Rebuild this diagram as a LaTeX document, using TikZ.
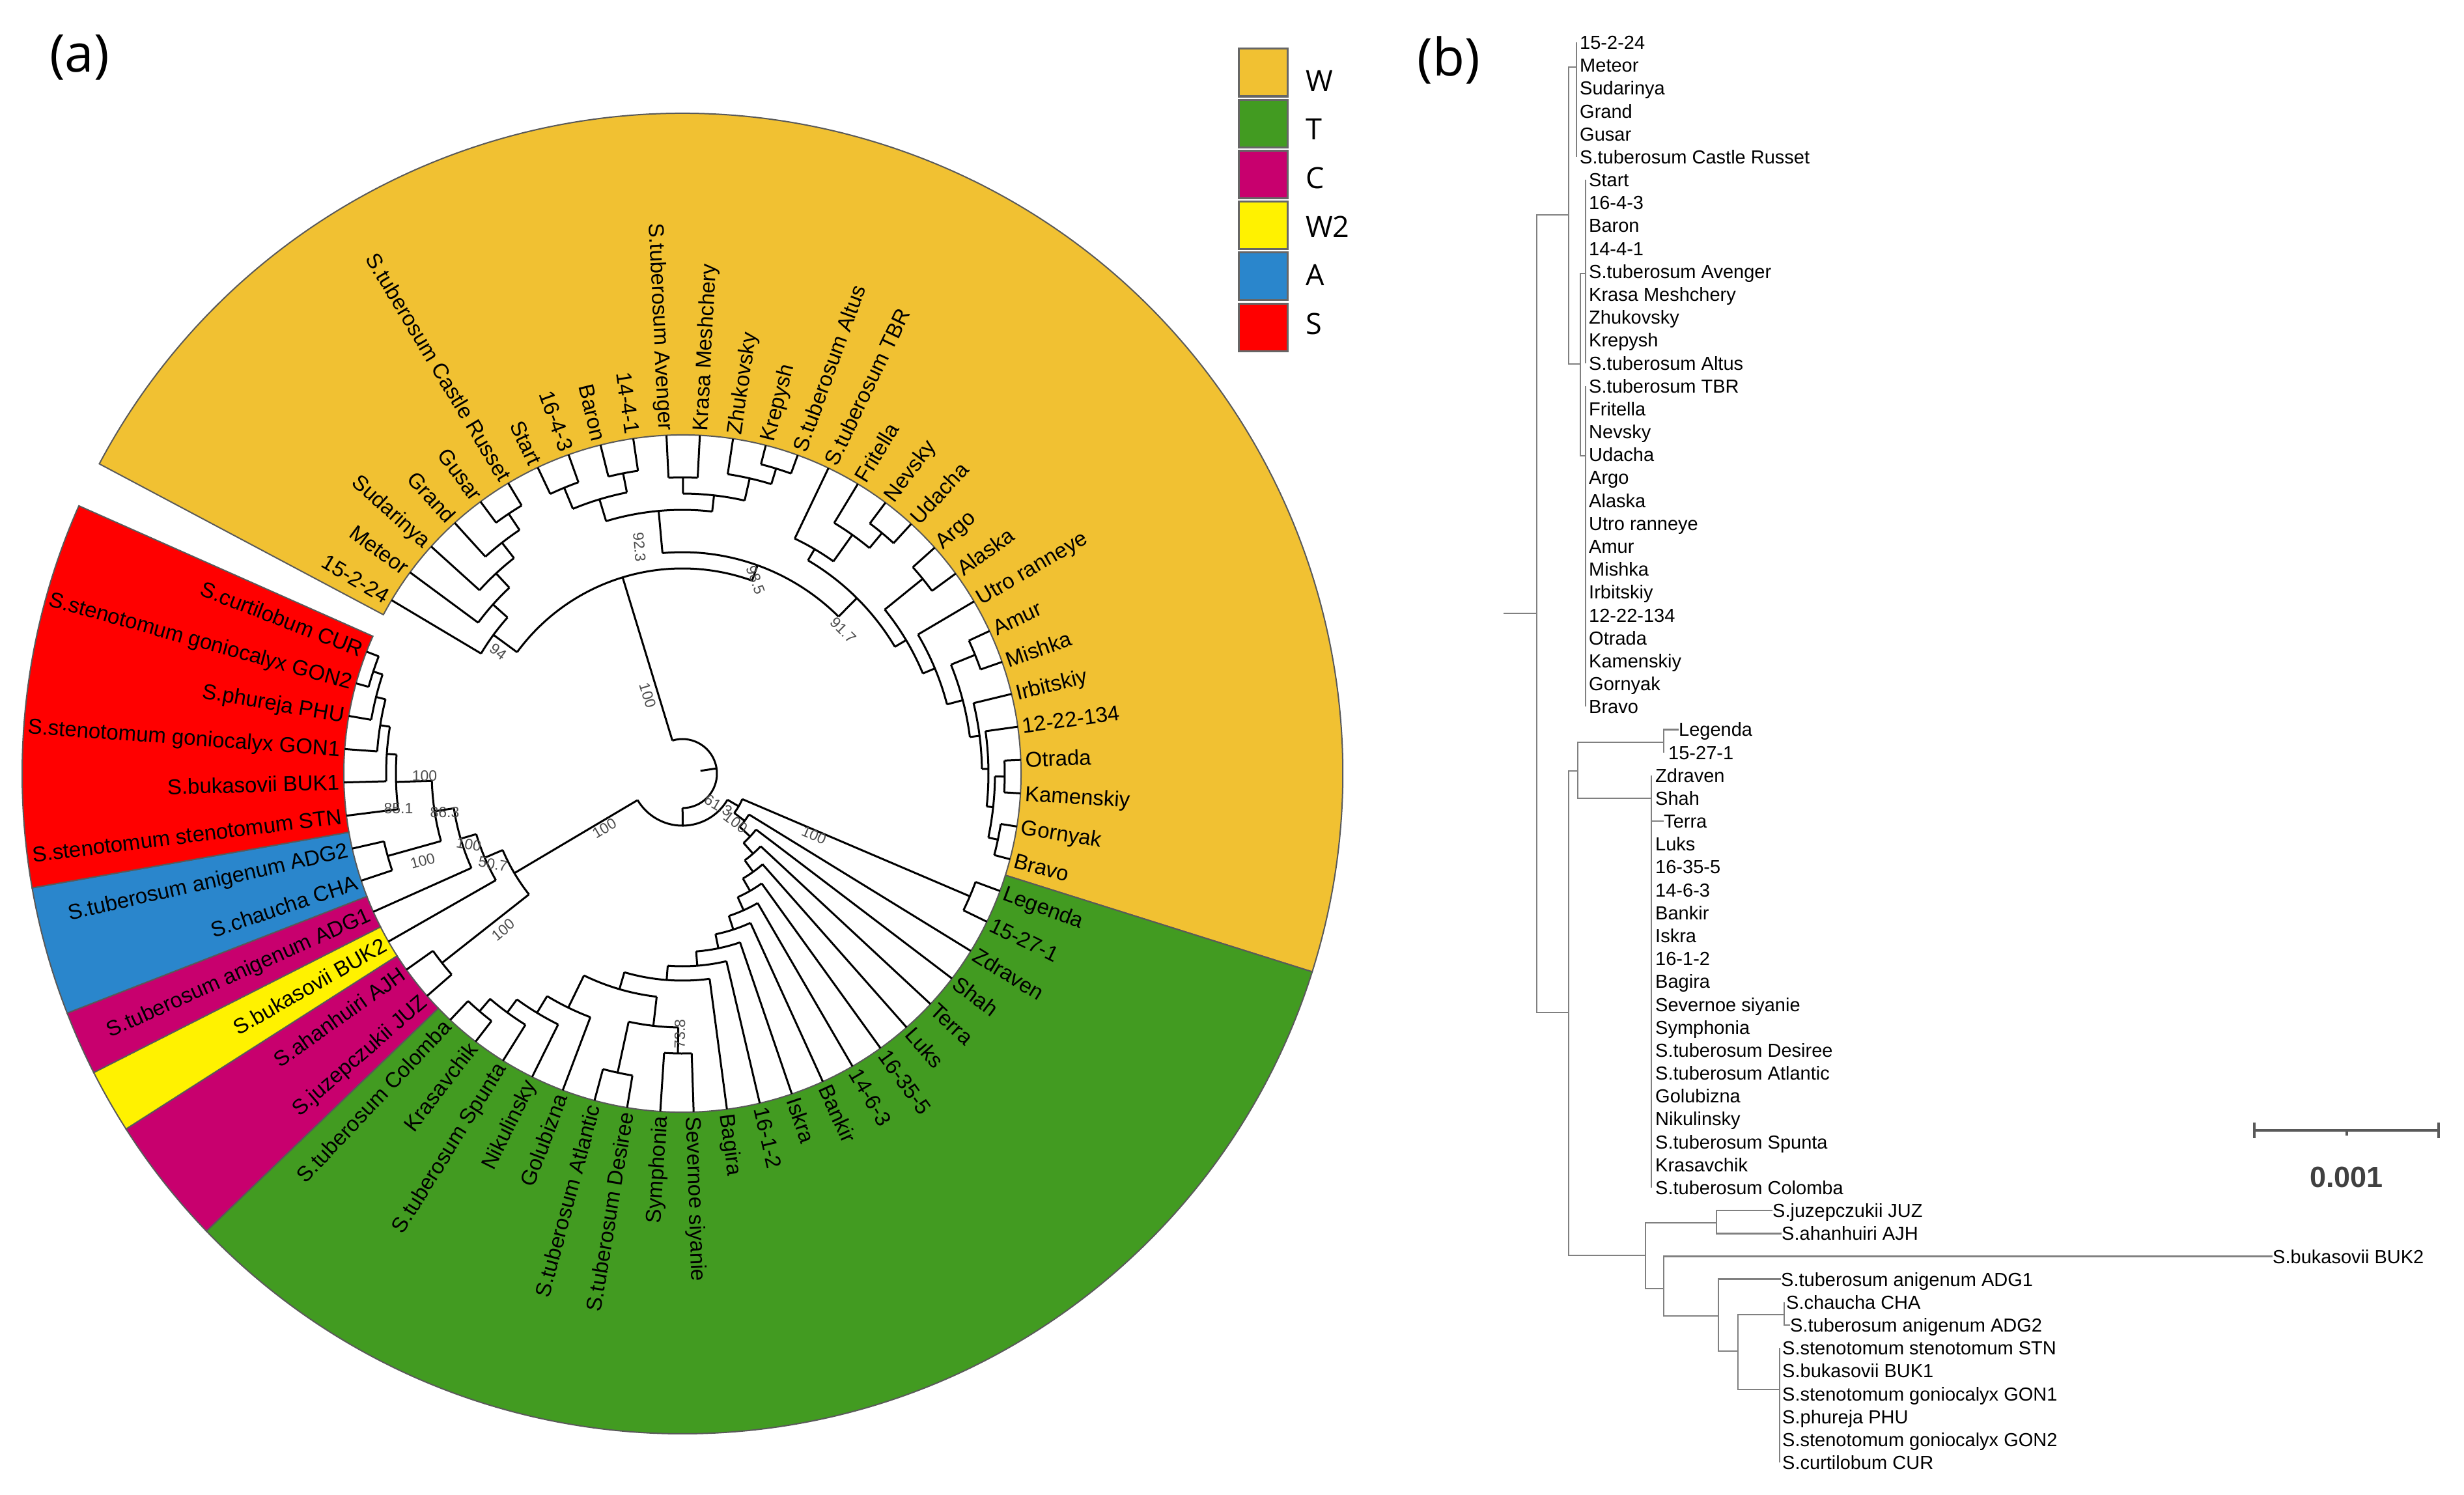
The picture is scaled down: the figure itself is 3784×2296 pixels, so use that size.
\documentclass[tikz,border=0pt]{standalone}
\usepackage{fontspec}
\setmainfont{Liberation Sans}
\newfontfamily\legfont{Open Sans}
\usetikzlibrary{positioning,calc}

\definecolor{colW}{RGB}{241,193,50}
\definecolor{colT}{RGB}{66,155,33}
\definecolor{colC}{RGB}{200,0,110}
\definecolor{colWtwo}{RGB}{255,242,0}
\definecolor{colA}{RGB}{42,134,204}
\definecolor{colS}{RGB}{255,0,0}
\definecolor{bgray}{RGB}{128,128,128}

% leaf p sits at angle 149.2-5.65*p
\newcommand{\clade}[4]{%
  \pgfmathsetmacro{\ca}{149.2-5.65*(#1)}%
  \pgfmathsetmacro{\cb}{149.2-5.65*(#2)}%
  \pgfmathsetmacro{\cm}{(\ca+\cb)/2}%
  \draw[branch] (\cm:#4pt) -- (\cm:#3pt) (\ca:#3pt) arc[start angle=\ca, end angle=\cb, radius=#3pt];}
\newcommand{\tleaf}[2]{%
  \pgfmathsetmacro{\ca}{149.2-5.65*(#1)}%
  \draw[branch] (\ca:#2pt) -- (\ca:520pt);}
\newcommand{\grpwedge}[3]{%
  \pgfmathsetmacro{\ca}{149.2-5.65*(#1)}%
  \pgfmathsetmacro{\cb}{149.2-5.65*(#2)}%
  \filldraw[fill=#3,draw=black!65,line width=2pt] (\ca:520pt) arc[start angle=\ca, end angle=\cb, radius=520pt]
    -- (\cb:1014pt) arc[start angle=\cb, end angle=\ca, radius=1014pt] -- cycle;}

\begin{document}
\begin{tikzpicture}[x=1pt,y=1pt]
  \tikzstyle{branch}=[line width=3pt,black]
  \tikzstyle{btree}=[line width=2.5pt,bgray]
  \tikzstyle{alab}=[inner sep=0,font=\fontsize{33}{40}\selectfont,text height=23pt,text depth=0pt]
  \tikzstyle{blab}=[inner sep=0,anchor=west,font=\fontsize{29}{35}\selectfont,text height=21pt,text depth=0pt]
  \tikzstyle{boot}=[inner sep=0,font=\fontsize{23}{27}\selectfont,black!70]
  \tikzstyle{legbox}=[draw=black!60,line width=3pt,minimum width=75pt,minimum height=73pt,inner sep=0]
  \tikzstyle{legtxt}=[inner sep=0,anchor=west,font=\legfont\fontsize{45}{54}\selectfont]
  \tikzstyle{panel}=[inner sep=0,font=\legfont\fontsize{80}{96}\selectfont]
  \useasboundingbox (0,0) rectangle (3784,-2296);

  \node[panel] (pa) at (122,-88) {(a)};
  \node[panel] (pb) at (2225,-92) {(b)};

  % (a) circular tree
  \begin{scope}[shift={(1048,-1188)}]
    \grpwedge{-0.5}{29.5}{colW}
    \grpwedge{29.5}{50.5}{colT}
    \grpwedge{50.5}{52.5}{colC}
    \grpwedge{52.5}{53.5}{colWtwo}
    \grpwedge{53.5}{54.5}{colC}
    \grpwedge{54.5}{56.5}{colA}
    \grpwedge{56.5}{62.5}{colS}

    \clade{7.478}{42.296}{53}{28}
    % W group
    \clade{0.96875}{13.988}{315}{53}
    \clade{0}{1.9375}{360}{315} \tleaf{0}{360}
    \clade{1}{2.875}{390}{360} \tleaf{1}{390}
    \clade{2}{3.75}{420}{390} \tleaf{2}{420}
    \clade{3}{4.5}{450}{420} \tleaf{3}{450}
    \clade{4}{5}{480}{450} \tleaf{4}{480} \tleaf{5}{480}
    \clade{9.5625}{18.414}{340}{315}
    \clade{7.5}{11.625}{405}{340}
    \clade{6.5}{8.5}{440}{405}
    \clade{6}{7}{475}{440} \tleaf{6}{475} \tleaf{7}{475}
    \clade{8}{9}{470}{440} \tleaf{8}{470} \tleaf{9}{470}
    \clade{10.5}{12.75}{430}{405}
    \clade{10}{11}{455}{430} \tleaf{10}{455} \tleaf{11}{455}
    \clade{12}{13.5}{465}{430} \tleaf{12}{465}
    \clade{13}{14}{490}{465} \tleaf{13}{490} \tleaf{14}{490}
    \clade{15.875}{20.953}{380}{340}
    \clade{15}{16.75}{400}{380} \tleaf{15}{400}
    \clade{16}{17.5}{450}{400} \tleaf{16}{450}
    \clade{17}{18}{480}{450} \tleaf{17}{480} \tleaf{18}{480}
    \clade{19.5}{22.406}{400}{380}
    \clade{19}{20}{475}{400} \tleaf{19}{475} \tleaf{20}{475}
    \clade{21}{23.8125}{420}{400} \tleaf{21}{420}
    \clade{22.5}{25.125}{445}{420}
    \clade{22}{23}{485}{445} \tleaf{22}{485} \tleaf{23}{485}
    \clade{24}{26.25}{460}{445} \tleaf{24}{460}
    \clade{25}{27.5}{470}{460} \tleaf{25}{470}
    \clade{26.5}{28.5}{480}{470}
    \clade{26}{27}{495}{480} \tleaf{26}{495} \tleaf{27}{495}
    \clade{28}{29}{495}{480} \tleaf{28}{495} \tleaf{29}{495}
    % T group
    \clade{31.751}{52.84}{80}{53}
    \clade{30.5}{33.002}{100}{80}
    \clade{30}{31}{480}{100} \tleaf{30}{480} \tleaf{31}{480}
    \clade{32}{34.004}{120}{100} \tleaf{32}{120}
    \clade{33}{35.009}{142}{120} \tleaf{33}{142}
    \clade{34}{36.017}{164}{142} \tleaf{34}{164}
    \clade{35}{37.035}{186}{164} \tleaf{35}{186}
    \clade{36}{38.069}{208}{186} \tleaf{36}{208}
    \clade{37}{39.139}{230}{208} \tleaf{37}{230}
    \clade{38}{40.277}{252}{230} \tleaf{38}{252}
    \clade{39}{41.555}{274}{252} \tleaf{39}{274}
    \clade{40}{43.109}{296}{274} \tleaf{40}{296}
    \clade{41}{45.21875}{318}{296} \tleaf{41}{318}
    \clade{46.9375}{43.5}{345}{318}
    \clade{46}{47.875}{400}{345} \tleaf{46}{400}
    \clade{47}{48.75}{430}{400} \tleaf{47}{430}
    \clade{48}{49.5}{455}{430} \tleaf{48}{455}
    \clade{49}{50}{480}{455} \tleaf{49}{480} \tleaf{50}{480}
    \clade{44.5}{42.5}{390}{345}
    \clade{44}{45}{470}{390} \tleaf{44}{470} \tleaf{45}{470}
    \clade{42}{43}{430}{390} \tleaf{42}{430} \tleaf{43}{430}
    % wild species
    \clade{51.5}{54.18}{300}{80}
    \clade{51}{52}{470}{300} \tleaf{51}{470} \tleaf{52}{470}
    \clade{53}{55.367}{330}{300} \tleaf{53}{330}
    \clade{54}{56.734}{355}{330} \tleaf{54}{355}
    \clade{57.96875}{55.5}{385}{355}
    \clade{55}{56}{470}{385} \tleaf{55}{470} \tleaf{56}{470}
    \clade{57}{58.9375}{440}{385} \tleaf{57}{440}
    \clade{58}{59.875}{455}{440} \tleaf{58}{455}
    \clade{59}{60.75}{470}{455} \tleaf{59}{470}
    \clade{60}{61.5}{485}{470} \tleaf{60}{485}
    \clade{61}{62}{500}{485} \tleaf{61}{500} \tleaf{62}{500}

    \foreach \i/\nm in {11/Krasa Meshchery,12/Zhukovsky,13/Krepysh,14/S.tuberosum Altus,15/S.tuberosum TBR,
      16/Fritella,17/Nevsky,18/Udacha,19/Argo,20/Alaska,21/Utro ranneye,22/Amur,23/Mishka,24/Irbitskiy,
      25/12-22-134,26/Otrada,27/Kamenskiy,28/Gornyak,29/Bravo,30/Legenda,31/15-27-1,32/Zdraven,33/Shah,
      34/Terra,35/Luks,36/16-35-5,37/14-6-3,38/Bankir,39/Iskra,40/16-1-2,41/Bagira,42/Severnoe siyanie}{
      \pgfmathsetmacro{\la}{149.2-5.65*\i}
      \node[alab,anchor=west,rotate=\la] (a\i) at (\la:527pt) {\nm};
    }
    \foreach \i/\nm in {0/15-2-24,1/Meteor,2/Sudarinya,3/Grand,4/Gusar,5/S.tuberosum Castle Russet,6/Start,
      7/16-4-3,8/Baron,9/14-4-1,10/S.tuberosum Avenger,43/Symphonia,44/S.tuberosum Desiree,
      45/S.tuberosum Atlantic,46/Golubizna,47/Nikulinsky,48/S.tuberosum Spunta,49/Krasavchik,
      50/S.tuberosum Colomba,51/S.juzepczukii JUZ,52/S.ahanhuiri AJH,53/S.bukasovii BUK2,
      54/S.tuberosum anigenum ADG1,55/S.chaucha CHA,56/S.tuberosum anigenum ADG2,
      57/S.stenotomum stenotomum STN,58/S.bukasovii BUK1,59/S.stenotomum goniocalyx GON1,
      60/S.phureja PHU,61/S.stenotomum goniocalyx GON2,62/S.curtilobum CUR}{
      \pgfmathsetmacro{\la}{149.2-5.65*\i}
      \node[alab,anchor=east,rotate=\la+180] (a\i) at (\la:527pt) {\nm};
    }
  \end{scope}

  % bootstrap values
  \node[boot,rotate=-73] (bs1) at (995,-1068) {100};
  \node[boot,rotate=30.6] (bs2) at (928,-1272) {100};
  \node[boot,rotate=-30] (bs3) at (1103,-1237) {61.3};
  \node[boot,rotate=-37] (bs4) at (1130,-1263) {100};
  \node[boot,rotate=-23] (bs5) at (1250,-1283) {100};
  \node[boot,rotate=-36.3] (bs6) at (765,-1001) {94};
  \node[boot,rotate=-84.8] (bs7) at (982,-840) {92.3};
  \node[boot,rotate=-70] (bs8) at (1161,-891) {98.5};
  \node[boot,rotate=-45] (bs9) at (1295,-968) {91.7};
  \node[boot,rotate=89.1] (bs10) at (1044,-1588) {73.8};
  \node[boot] (bs11) at (652,-1192) {100};
  \node[boot] (bs12) at (612,-1242) {85.1};
  \node[boot] (bs13) at (683,-1248) {86.3};
  \node[boot,rotate=15] (bs14) at (649,-1322) {100};
  \node[boot,rotate=-10] (bs15) at (720,-1297) {100};
  \node[boot,rotate=-10] (bs16) at (757,-1327) {50.7};
  \node[boot,rotate=40] (bs17) at (773,-1428) {100};

  % legend
  \foreach \k/\c/\t in {0/colW/W,1/colT/T,2/colC/C,3/colWtwo/W2,4/colA/A,5/colS/S}{
    \node[legbox,fill=\c] (box\k) at (1939.5,{-111.5-78.2*\k}) {};
    \node[legtxt] (txt\k) at (2005,{-124-74.6*\k}) {\t};
  }

  % (b) rectangular tree
  \foreach \i/\x/\nm in {0/2426/15-2-24,1/2426/Meteor,2/2426/Sudarinya,3/2426/Grand,4/2426/Gusar,
    5/2426/S.tuberosum Castle Russet,6/2440/Start,7/2440/16-4-3,8/2440/Baron,9/2440/14-4-1,
    10/2440/S.tuberosum Avenger,11/2440/Krasa Meshchery,12/2440/Zhukovsky,13/2440/Krepysh,
    14/2440/S.tuberosum Altus,15/2440/S.tuberosum TBR,16/2440/Fritella,17/2440/Nevsky,18/2440/Udacha,
    19/2440/Argo,20/2440/Alaska,21/2440/Utro ranneye,22/2440/Amur,23/2440/Mishka,24/2440/Irbitskiy,
    25/2440/12-22-134,26/2440/Otrada,27/2440/Kamenskiy,28/2440/Gornyak,29/2440/Bravo,
    30/2578/Legenda,31/2562/15-27-1,32/2542/Zdraven,33/2542/Shah,34/2555/Terra,35/2542/Luks,
    36/2542/16-35-5,37/2542/14-6-3,38/2542/Bankir,39/2542/Iskra,40/2542/16-1-2,41/2542/Bagira,
    42/2542/Severnoe siyanie,43/2542/Symphonia,44/2542/S.tuberosum Desiree,45/2542/S.tuberosum Atlantic,
    46/2542/Golubizna,47/2542/Nikulinsky,48/2542/S.tuberosum Spunta,49/2542/Krasavchik,
    50/2542/S.tuberosum Colomba,51/2722/S.juzepczukii JUZ,52/2736/S.ahanhuiri AJH,
    53/3490/S.bukasovii BUK2,54/2735/S.tuberosum anigenum ADG1,55/2743/S.chaucha CHA,
    56/2749/S.tuberosum anigenum ADG2,57/2737/S.stenotomum stenotomum STN,58/2737/S.bukasovii BUK1,
    59/2737/S.stenotomum goniocalyx GON1,60/2737/S.phureja PHU,61/2737/S.stenotomum goniocalyx GON2,
    62/2737/S.curtilobum CUR}{
    \node[blab] (b\i) at (\x,{-65-35.18*\i}) {\nm};
  }
  \draw[btree] (2309,-942) -- (2360,-942);
  \draw[btree] (2409,-330) -- (2360,-330) -- (2360,-1555) -- (2409,-1555);
  \draw[btree] (2421,-103) -- (2409,-103) -- (2409,-559) -- (2427,-559);
  \draw[btree] (b0.west -| 2421,0) -- (b5.west -| 2421,0);
  \draw[btree] (2435,-420) -- (2427,-420) -- (2427,-700) -- (2435,-700);
  \draw[btree] (b6.west -| 2435,0) -- (b14.west -| 2435,0);
  \draw[btree] (b15.west -| 2435,0) -- (b29.west -| 2435,0);
  \draw[btree] (2423,-1184) -- (2409,-1184) -- (2409,-1928) -- (2527,-1928);
  \draw[btree] (2555,-1140) -- (2423,-1140) -- (2423,-1226) -- (2536,-1226);
  \draw[btree] (b30.west) -- (b30.west -| 2555,0) -- (b31.west -| 2555,0);
  \draw[btree] (b32.west -| 2536,0) -- (b50.west -| 2536,0);
  \draw[btree] (b34.west -| 2536,0) -- (b34.west);
  \draw[btree] (2636,-1878) -- (2527,-1878) -- (2527,-1979) -- (2555,-1979);
  \draw[btree] (b51.west) -- (b51.west -| 2636,0) -- (b52.west -| 2636,0) -- (b52.west);
  \draw[btree] (b53.west) -- (b53.west -| 2555,0) -- (2555,-2021) -- (2639,-2021);
  \draw[btree] (b54.west) -- (b54.west -| 2639,0) -- (2639,-2075) -- (2669,-2075);
  \draw[btree] (2740,-2019) -- (2669,-2019) -- (2669,-2134) -- (2733,-2134);
  \draw[btree] (b55.west -| 2740,0) -- (b56.west -| 2740,0) -- (b56.west);
  \draw[btree] (b57.west -| 2733,0) -- (b62.west -| 2733,0);

  % scale bar
  \coordinate (sbl) at (3462,-1736);
  \coordinate (sbr) at (3745,-1736);
  \coordinate (sbm) at ($(sbl)!0.5!(sbr)$);
  \draw[line width=4pt,black!65] (sbl) -- (sbr) (3462,-1724) -- (3462,-1748) (3745,-1724) -- (3745,-1748)
    (sbm) -- ++(0,-8);
  \node[inner sep=0,font=\bfseries\fontsize{45}{54}\selectfont,black!75,below=56pt of sbm] (sbt) {0.001};
\end{tikzpicture}
\end{document}
